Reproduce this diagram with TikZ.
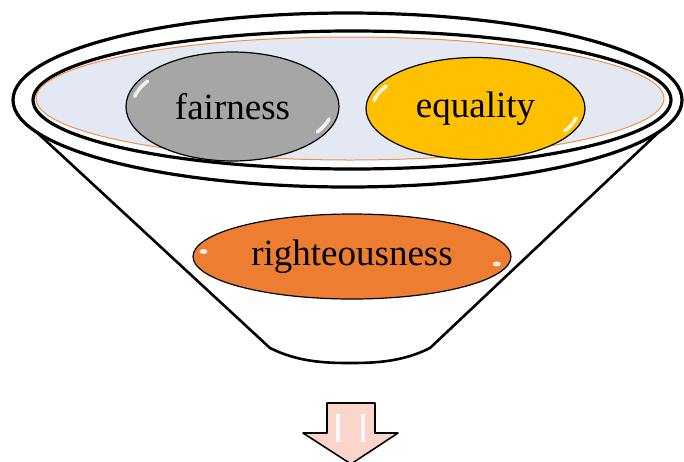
\documentclass[tikz,border=0pt]{standalone}
\usepackage{fontspec}
\setmainfont{Liberation Serif}
\usetikzlibrary{shapes.geometric}
\definecolor{trayfill}{HTML}{E4E8F3}
\definecolor{trayline}{HTML}{F0904A}
\definecolor{grayb}{HTML}{A6A6A6}
\definecolor{goldb}{HTML}{FFC000}
\definecolor{orangeb}{HTML}{ED7D31}
\definecolor{arrowfill}{HTML}{F8D4CA}
\begin{document}
\begin{tikzpicture}[x=1pt,y=-1pt,
  rim/.style={line width=3.2pt, draw=black},
  side/.style={line width=2.6pt, draw=black, line join=round},
  bub/.style={ellipse, draw=black, line width=1.2pt, inner sep=0pt,
    font=\fontsize{37}{44}\selectfont},
  hl/.style={draw=white, line width=3.5pt, line cap=round, opacity=0.85},
  spot/.style={fill=white, opacity=0.85}]
\useasboundingbox (0,0) rectangle (684,461);
% funnel body
\filldraw[side, fill=white] (17,114) -- (270,348)
  .. controls (298,362) and (325,363) .. (350,363)
  .. controls (375,363) and (402,362) .. (430,348) -- (678,114);
% rims
\draw[rim, fill=white] (347.5,100) ellipse [x radius=334.5, y radius=87];
\draw[rim] (352,100) ellipse [x radius=319, y radius=69];
\draw[draw=trayline, line width=1pt, fill=trayfill] (350,98.5) ellipse [x radius=314, y radius=61.5];
% bubbles
\node[bub, fill=grayb, minimum width=213pt, minimum height=109pt] (fair) at (232.5,106.5) {fairness};
\node[bub, fill=goldb, minimum width=219pt, minimum height=102pt] (equal) at (475.5,108.5) {equality};
\node[bub, fill=orangeb, minimum width=318pt, minimum height=85pt] (right) at (352,256.5) {righteousness};
% glossy highlights
\draw[hl] ([shift={(fair.center)}]192:100 and 48) arc[start angle=192, end angle=212, x radius=100, y radius=48];
\draw[hl] ([shift={(fair.center)}]15:100 and 48) arc[start angle=15, end angle=32, x radius=100, y radius=48];
\draw[hl] ([shift={(equal.center)}]190:103 and 45) arc[start angle=190, end angle=210, x radius=103, y radius=45];
\draw[hl] ([shift={(equal.center)}]12:103 and 45) arc[start angle=12, end angle=30, x radius=103, y radius=45];
\fill[spot] ([shift={(right.center)}]188:150 and 36) ellipse [x radius=4, y radius=2.5];
\fill[spot] ([shift={(right.center)}]12:148 and 36) ellipse [x radius=4, y radius=2.5];
% down arrow
\filldraw[draw=black, line width=1.6pt, fill=arrowfill, line join=round]
  (327,403) -- (375,403) -- (375,433) -- (398,433) -- (351,464)
  -- (303,433) -- (327,433) -- cycle;
\draw[white, line width=4pt, opacity=0.85] (338,414) -- (338,442);
\draw[white, line width=4pt, opacity=0.85] (363,414) -- (363,442);
\end{tikzpicture}
\end{document}
